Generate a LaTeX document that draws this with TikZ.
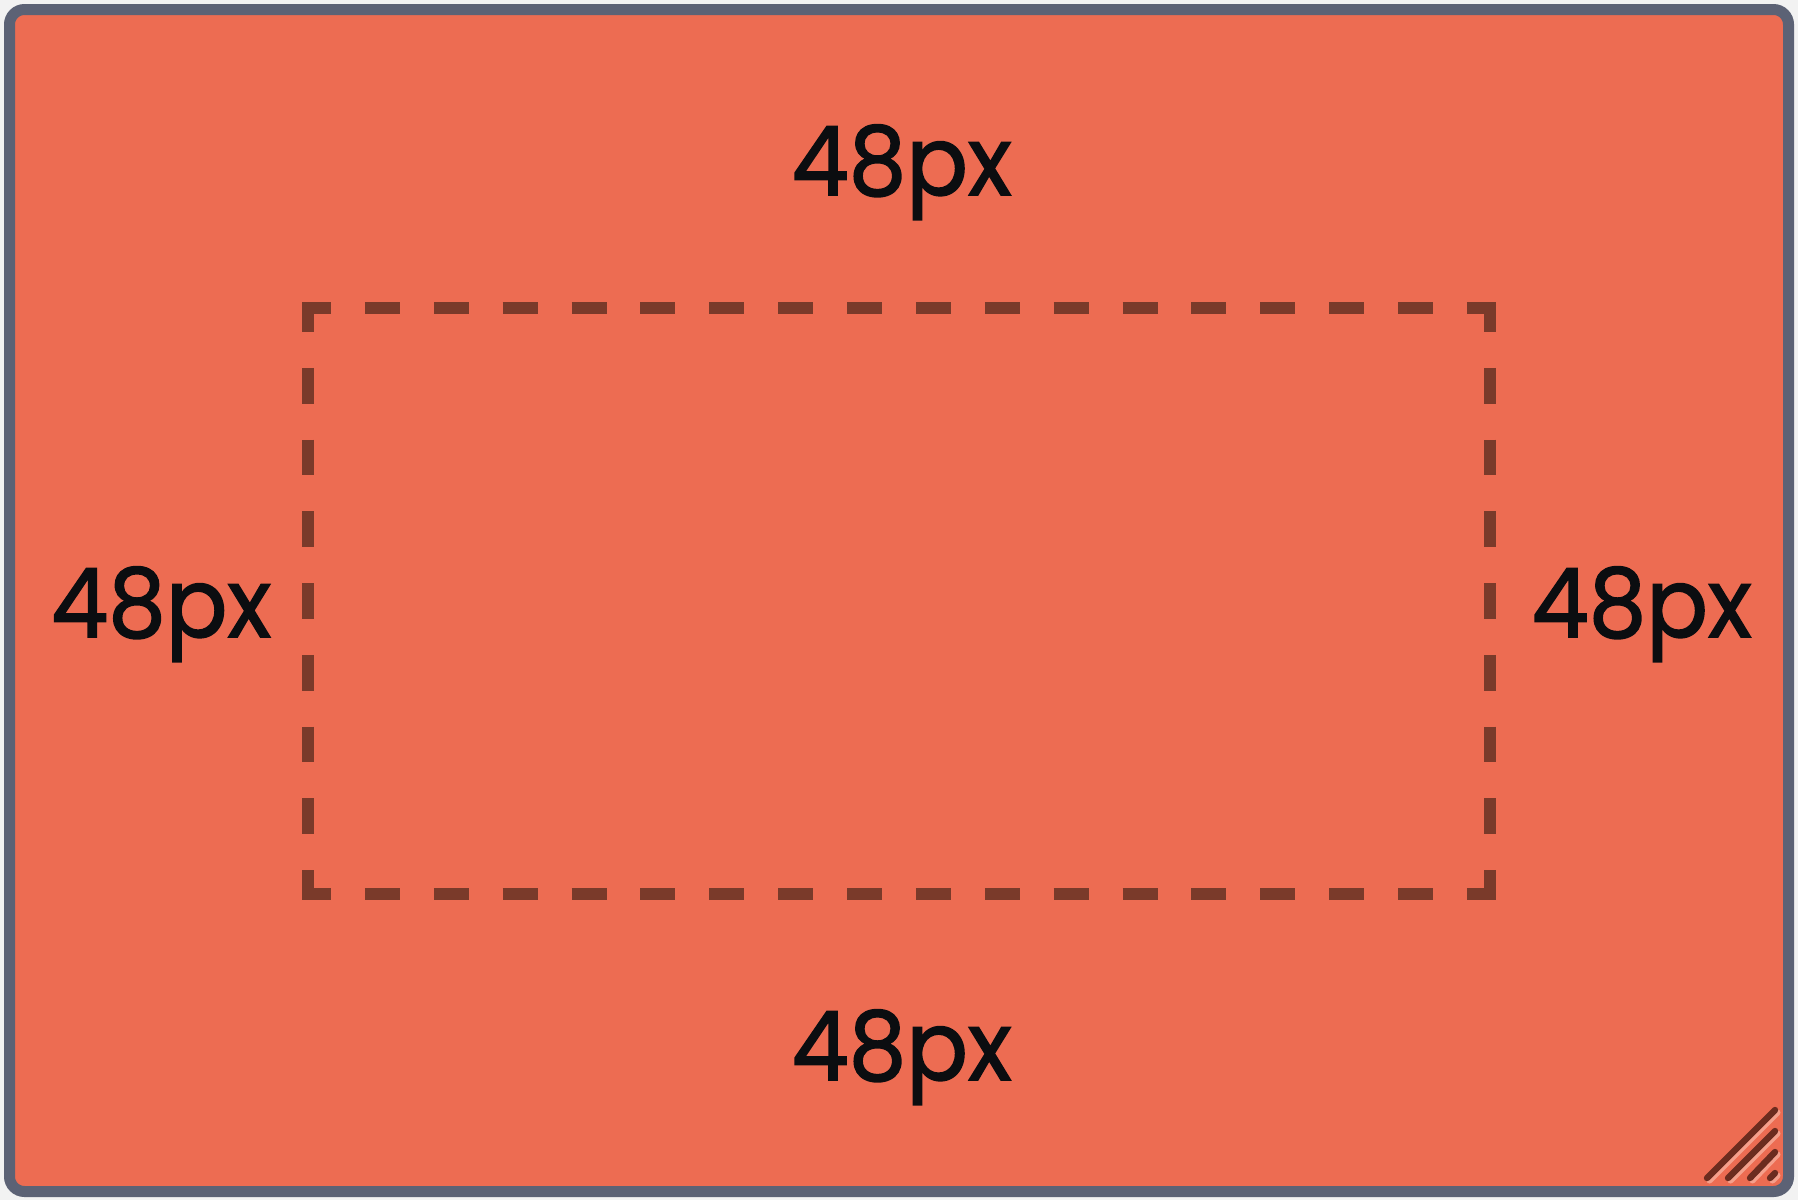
\documentclass[tikz,border=0pt]{standalone}
\usepackage{fontspec}
\setmainfont{Poppins}
\newfontfamily\lblfont{Poppins}[FakeBold=1.6, FakeStretch=0.95]
\definecolor{pagebg}{RGB}{242,242,242}
\definecolor{boxfill}{RGB}{237,108,82}
\definecolor{boxedge}{RGB}{92,98,117}
\definecolor{dashcol}{RGB}{122,58,42}
\definecolor{gripcol}{RGB}{108,44,31}
\definecolor{gripshine}{RGB}{244,160,140}
\definecolor{txtcol}{RGB}{11,13,16}
\tikzset{
  hside/.style={draw=dashcol, line width=6pt, line cap=butt, dash pattern=on 17.5pt off 16.94pt, dash phase=3pt},
  vside/.style={draw=dashcol, line width=6pt, line cap=butt, dash pattern=on 17.935pt off 17.935pt, dash phase=2.935pt},
  lbl/.style={anchor=base, inner sep=0pt, text=txtcol, font=\lblfont\fontsize{48pt}{58pt}\selectfont},
  grip/.style={draw=gripcol, line width=3.2pt, line cap=round},
  gripglow/.style={draw=gripshine, line width=3pt, line cap=round}
}
\begin{document}
\begin{tikzpicture}[x=0.5pt,y=-0.5pt]
\useasboundingbox (0,0) rectangle (1798,1200);
\fill[pagebg] (0,0) rectangle (1798,1200);
% outer box
\draw[fill=boxfill, draw=boxedge, line width=5.5pt, rounded corners=7.5pt] (9.5,9.5) rectangle (1788.5,1191.5);
% dashed inner frame
\draw[hside] (302,308) -- (1496,308);
\draw[hside] (302,894) -- (1496,894);
\draw[vside] (308,302) -- (308,900);
\draw[vside] (1490,302) -- (1490,900);
% labels
\node[lbl] (top) at (901.5,195) {48px};
\node[lbl] (bottom) at (901.5,1080) {48px};
\node[lbl] (left) at (161,637) {48px};
\node[lbl] (right) at (1641.5,637) {48px};
% resize grip
\coordinate (g1a) at (1707,1178); \coordinate (g1b) at (1775,1110);
\coordinate (g2a) at (1728,1178); \coordinate (g2b) at (1775,1131);
\coordinate (g3a) at (1750,1178); \coordinate (g3b) at (1775,1152);
\coordinate (g4a) at (1770,1178); \coordinate (g4b) at (1775,1173);
\foreach \a/\b in {g1a/g1b,g2a/g2b,g3a/g3b,g4a/g4b}{
  \draw[gripglow] ([shift={(2.5,2.5)}]\a) -- ([shift={(2.5,2.5)}]\b);
}
\foreach \a/\b in {g1a/g1b,g2a/g2b,g3a/g3b,g4a/g4b}{
  \draw[grip] (\a) -- (\b);
}
\end{tikzpicture}
\end{document}
